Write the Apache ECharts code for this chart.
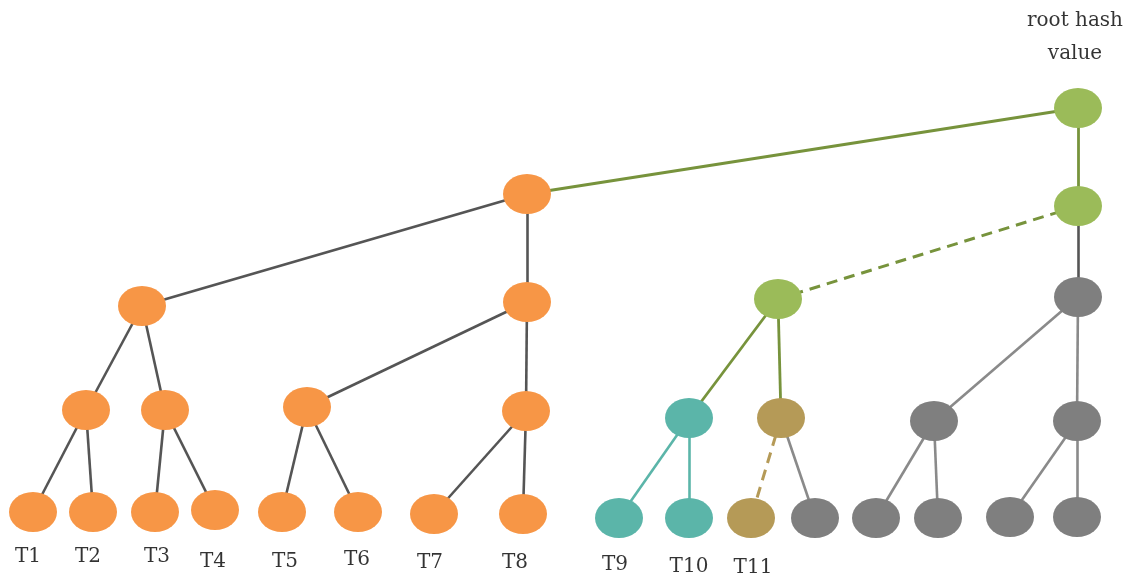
<!DOCTYPE html>
<html>
<head>
<meta charset="utf-8">
<script src="https://cdn.jsdelivr.net/npm/echarts@6/dist/echarts.min.js"></script>
<style>html,body{margin:0;padding:0;background:#fff}#c{width:1128px;height:579px}</style>
</head>
<body>
<div id="c"></div>
<script>
// Node positions (data units = picture coordinates)
const nodeX = [1078, 527,1078, 142,527,778,1078, 86,165,307,526,689,781,934,1077, 33,93,155,215,282,358,434,523,619,689,751,815,876,938,1010,1077];
const nodeY = [108, 194,206, 306,302,299,297, 410,410,407,411,418,418,421,421, 512,512,512,510,512,512,514,514,518,518,518,518,518,518,517,517];
const nodeKind = ['green','orange','green','orange','orange','green','gray','orange','orange','orange','orange','teal','tan','gray','gray',
  'orange','orange','orange','orange','orange','orange','orange','orange','teal','teal','tan','gray','gray','gray','gray','gray'];
// Edges: [source, target, style]
const edges = [[0,1,'green'],[0,2,'green'],[1,3,'dark'],[1,4,'dark'],[2,5,'greenDash'],[2,6,'dark'],
  [3,7,'dark'],[3,8,'dark'],[4,9,'dark'],[4,10,'dark'],[5,11,'green'],[5,12,'green'],[6,13,'light'],[6,14,'light'],
  [7,15,'dark'],[7,16,'dark'],[8,17,'dark'],[8,18,'dark'],[9,19,'dark'],[9,20,'dark'],[10,21,'dark'],[10,22,'dark'],
  [11,23,'teal'],[11,24,'teal'],[12,25,'tanDash'],[12,26,'light'],[13,27,'light'],[13,28,'light'],[14,29,'light'],[14,30,'light']];
// Text labels
const labelText = ['T1','T2','T3','T4','T5','T6','T7','T8','T9','T10','T11','root hash\nvalue'];
const labelX = [28,88,157,213,285,357,430,515,615,689,753,1075];
const labelY = [557,557,557,562,562,560,563,563,565,567,568,37];

const fillColors = {green:'#9BBB59', orange:'#F79646', gray:'#7F7F7F', teal:'#5BB5A9', tan:'#B59A57'};
const edgeStyles = {
  green:{color:'#77933C', width:2.8, type:'solid'},
  greenDash:{color:'#77933C', width:3, type:[11,7]},
  dark:{color:'#555555', width:2.6, type:'solid'},
  light:{color:'#8A8A8A', width:2.6, type:'solid'},
  teal:{color:'#5BB5A9', width:2.6, type:'solid'},
  tanDash:{color:'#B59A57', width:3, type:[11,7]}
};

const nodes = nodeX.map((x,i)=>({value:[x,nodeY[i]], itemStyle:{color:fillColors[nodeKind[i]]}}));
const links = edges.map(e=>({source:e[0], target:e[1], lineStyle:Object.assign({opacity:1, curveness:0}, edgeStyles[e[2]])}));
const labels = labelText.map((t,i)=>[labelX[i], labelY[i], t]);

const chart = echarts.init(document.getElementById('c'));
chart.setOption({
  animation:false,
  grid:{left:0,right:0,top:0,bottom:0},
  xAxis:{type:'value',min:0,max:1128,show:false},
  yAxis:{type:'value',min:0,max:579,inverse:true,show:false},
  series:[
    {type:'graph', coordinateSystem:'cartesian2d', layout:'none', symbol:'circle', symbolSize:[48,40],
     data:nodes, links:links, label:{show:false}, emphasis:{disabled:true}, silent:true},
    {type:'scatter', symbolSize:1, itemStyle:{color:'transparent'}, data:labels, silent:true,
     label:{show:true, position:'inside', formatter:p=>p.data[2], color:'#000000',
       fontFamily:'DejaVu Serif', fontSize:20, lineHeight:33, textBorderWidth:0}}
  ]
});
</script>
</body>
</html>
